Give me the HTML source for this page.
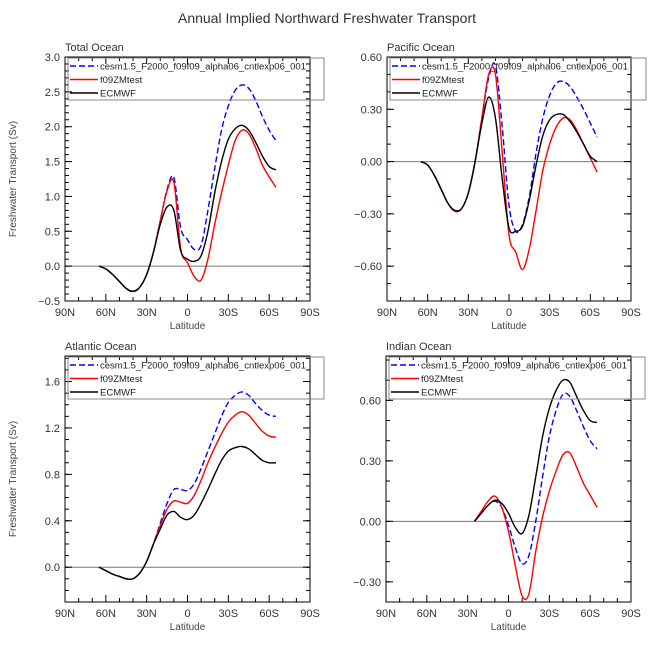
<!DOCTYPE html>
<html><head><meta charset="utf-8"><style>
body{margin:0;background:#fff}
svg text{font-family:"Liberation Sans",sans-serif}
</style></head><body>
<svg id="c" width="654" height="654" viewBox="0 0 654 654" xmlns="http://www.w3.org/2000/svg">
<text x="327" y="23" text-anchor="middle" font-size="14" fill="#333">Annual Implied Northward Freshwater Transport</text>
</svg>
<script>
// latitudes: degrees from 90N (25 = 65N, 90 = equator, 155 = 65S)
const latsFull = [25,30,35,40,45,50,55,60,65,70,75,80,85,90,95,100,105,110,115,120,125,130,135,140,145,150,155];
const latsIndian = [65,70,75,80,85,90,95,100,105,110,115,120,125,130,135,140,145,150,155];
const xTickLabels = ["90N","60N","30N","0","30S","60S","90S"];
const seriesNames = ["cesm1.5_F2000_f09f09_alpha06_cntlexp06_001","f09ZMtest","ECMWF"];

const totalBlue = [0,-0.04,-0.12,-0.22,-0.32,-0.37,-0.30,-0.12,0.2,0.65,1.1,1.27,0.55,0.38,0.24,0.3,0.8,1.4,1.95,2.3,2.52,2.6,2.55,2.38,2.15,1.95,1.8];
const totalRed = [0,-0.04,-0.12,-0.22,-0.32,-0.36,-0.30,-0.12,0.2,0.65,1.08,1.2,0.25,0.05,-0.15,-0.2,0.1,0.6,1.05,1.45,1.8,1.95,1.9,1.7,1.45,1.28,1.13];
const totalBlack = [0,-0.04,-0.12,-0.22,-0.32,-0.36,-0.30,-0.12,0.2,0.6,0.85,0.8,0.22,0.1,0.07,0.15,0.5,1.05,1.5,1.82,1.97,2.02,1.95,1.78,1.58,1.43,1.38];

const pacBlue = [0,-0.02,-0.08,-0.16,-0.24,-0.285,-0.27,-0.18,0.0,0.25,0.48,0.55,0.2,-0.25,-0.40,-0.36,-0.2,0.05,0.25,0.38,0.45,0.46,0.43,0.37,0.3,0.22,0.14];
const pacRed = [0,-0.02,-0.08,-0.16,-0.24,-0.285,-0.27,-0.18,0.0,0.25,0.5,0.5,0.05,-0.42,-0.52,-0.62,-0.5,-0.28,-0.05,0.1,0.2,0.25,0.24,0.18,0.1,0.02,-0.06];
const pacBlack = [0,-0.02,-0.08,-0.16,-0.24,-0.28,-0.27,-0.18,0.0,0.22,0.37,0.25,-0.1,-0.38,-0.40,-0.37,-0.22,-0.02,0.15,0.24,0.27,0.27,0.23,0.17,0.1,0.03,0.0];

const atlBlue = [0,-0.03,-0.06,-0.08,-0.1,-0.1,-0.05,0.05,0.2,0.38,0.55,0.67,0.67,0.66,0.72,0.85,1.0,1.15,1.3,1.42,1.48,1.51,1.48,1.41,1.35,1.31,1.3];
const atlRed = [0,-0.03,-0.06,-0.08,-0.1,-0.1,-0.05,0.05,0.2,0.36,0.5,0.57,0.56,0.55,0.62,0.75,0.9,1.03,1.15,1.25,1.31,1.34,1.31,1.24,1.17,1.13,1.12];
const atlBlack = [0,-0.03,-0.06,-0.08,-0.1,-0.1,-0.05,0.05,0.2,0.33,0.45,0.48,0.43,0.41,0.45,0.55,0.67,0.8,0.92,1.0,1.03,1.04,1.02,0.97,0.92,0.9,0.9];

const indBlue = [0,0.04,0.08,0.1,0.07,-0.02,-0.13,-0.21,-0.17,0.0,0.22,0.42,0.55,0.63,0.62,0.55,0.47,0.4,0.36];
const indRed = [0,0.05,0.1,0.125,0.07,-0.05,-0.22,-0.37,-0.36,-0.15,0.02,0.15,0.25,0.33,0.34,0.27,0.19,0.13,0.07];
const indBlack = [0,0.04,0.08,0.105,0.09,0.04,-0.03,-0.06,0.03,0.22,0.42,0.56,0.65,0.7,0.69,0.62,0.55,0.5,0.49];

const totalTicks = ["-0.5","0.0","0.5","1.0","1.5","2.0","2.5","3.0"];
const pacTicks = ["-0.60","-0.30","0.00","0.30","0.60"];
const atlTicks = ["0.0","0.4","0.8","1.2","1.6"];
const indTicks = ["-0.30","0.00","0.30","0.60"];

const NS="http://www.w3.org/2000/svg";
const svg=document.getElementById('c');
function mk(tag,attrs,parent){const e=document.createElementNS(NS,tag);for(const k in attrs)e.setAttribute(k,attrs[k]);(parent||svg).appendChild(e);return e;}

function panel(o){
  const g=mk('g',{});
  
  
  const L=o.x0,R=o.x1,T=o.y0,B=o.y1;
  const xs=d=>L+(R-L)*d/180;
  const ys=v=>B-(B-T)*(v-o.ymin)/(o.ymax-o.ymin);
  const z=mk('line',{x1:L,x2:R,y1:ys(0),y2:ys(0),stroke:'#777','stroke-width':1},g);
  
  
  for(let d=0;d<=180;d+=10){
    const maj=d%30===0, len=maj?7:4;
    mk('line',{x1:xs(d),x2:xs(d),y1:B,y2:B-len,stroke:'#000','stroke-width':1},g);
    mk('line',{x1:xs(d),x2:xs(d),y1:T,y2:T+len,stroke:'#000','stroke-width':1},g);
  }
  xTickLabels.forEach((t,i)=>{
    const tx=mk('text',{x:xs(i*30),y:B+15,'text-anchor':'middle','font-size':11,fill:'#333'},g);
    tx.textContent=t;
    
    
  });
  const xt=mk('text',{x:(L+R)/2,y:B+28,'text-anchor':'middle','font-size':10,fill:'#444'},g);
  xt.textContent='Latitude';
  
  
  const ms=o.minor;
  for(let v=Math.ceil(o.ymin/ms-1e-6)*ms; v<=o.ymax+1e-6; v+=ms){
    const y=ys(v);
    mk('line',{x1:L,x2:L+4,y1:y,y2:y,stroke:'#000','stroke-width':1},g);
    mk('line',{x1:R,x2:R-4,y1:y,y2:y,stroke:'#000','stroke-width':1},g);
  }
  o.ticks.forEach(t=>{
    const v=parseFloat(t), y=ys(v);
    mk('line',{x1:L,x2:L+7,y1:y,y2:y,stroke:'#000','stroke-width':1},g);
    mk('line',{x1:R,x2:R-7,y1:y,y2:y,stroke:'#000','stroke-width':1},g);
    const tx=mk('text',{x:L-5,y:y+4,'text-anchor':'end','font-size':11,fill:'#333'},g);
    tx.textContent=t.replace('-','\u2212');
    
    
  });
  if(o.ytitle){
    const yt=mk('text',{x:0,y:0,'text-anchor':'middle','font-size':10,fill:'#444',transform:`translate(16,${(T+B)/2}) rotate(-90)`},g);
    yt.textContent='Freshwater Transport (Sv)';
    
    
  }
  const pt=mk('text',{x:L,y:T-6,'font-size':11,fill:'#333'},g);
  pt.textContent=o.title;
  
  
  const styles=[{c:'#0000ff',d:'6,3'},{c:'#ff0000',d:''},{c:'#000',d:''}];
  o.series.forEach((s,si)=>{
    const P=s.map((v,i)=>[xs(o.lats[i]),ys(v)]);
    let d=`M${P[0][0]},${P[0][1]}`;
    for(let i=0;i<P.length-1;i++){
      const p0=P[Math.max(0,i-1)],p1=P[i],p2=P[i+1],p3=P[Math.min(P.length-1,i+2)];
      d+=` C${p1[0]+(p2[0]-p0[0])/6},${p1[1]+(p2[1]-p0[1])/6} ${p2[0]-(p3[0]-p1[0])/6},${p2[1]-(p3[1]-p1[1])/6} ${p2[0]},${p2[1]}`;
    }
    const path=mk('path',{d:d,fill:'none',stroke:styles[si].c,'stroke-width':1.4},g);
    if(styles[si].d)path.setAttribute('stroke-dasharray',styles[si].d);
    
    
  });
  mk('rect',{x:L,y:T,width:R-L,height:B-T,fill:'none',stroke:'#000','stroke-width':1},g);
  const lg=mk('g',{},g);
  
  
  mk('rect',{x:L+3,y:T+1,width:256,height:42,fill:'none',stroke:'#888','stroke-width':1},lg);
  seriesNames.forEach((n,i)=>{
    const y=T+9+i*13.5;
    const ln=mk('line',{x1:L+5,x2:L+33,y1:y,y2:y,stroke:styles[i].c,'stroke-width':1.4},lg);
    if(styles[i].d)ln.setAttribute('stroke-dasharray',styles[i].d);
    const tx=mk('text',{x:L+35,y:y+3.5,'font-size':9.5,fill:'#222'},lg);
    tx.textContent=n;
    
    
  });
}

panel({name:'total-ocean-panel',title:'Total Ocean',x0:65,x1:310,y0:57,y1:301,ymin:-0.5,ymax:3.0,minor:0.1,ticks:totalTicks,lats:latsFull,series:[totalBlue,totalRed,totalBlack],ytitle:true});
panel({name:'pacific-ocean-panel',title:'Pacific Ocean',x0:387,x1:631,y0:57,y1:301,ymin:-0.8,ymax:0.6,minor:0.1,ticks:pacTicks,lats:latsFull,series:[pacBlue,pacRed,pacBlack]});
panel({name:'atlantic-ocean-panel',title:'Atlantic Ocean',x0:65,x1:310,y0:356,y1:602,ymin:-0.3,ymax:1.82,minor:0.1,ticks:atlTicks,lats:latsFull,series:[atlBlue,atlRed,atlBlack],ytitle:true});
panel({name:'indian-ocean-panel',title:'Indian Ocean',x0:386,x1:631,y0:356,y1:602,ymin:-0.4,ymax:0.82,minor:0.1,ticks:indTicks,lats:latsIndian,series:[indBlue,indRed,indBlack]});
</script>
</body></html>
